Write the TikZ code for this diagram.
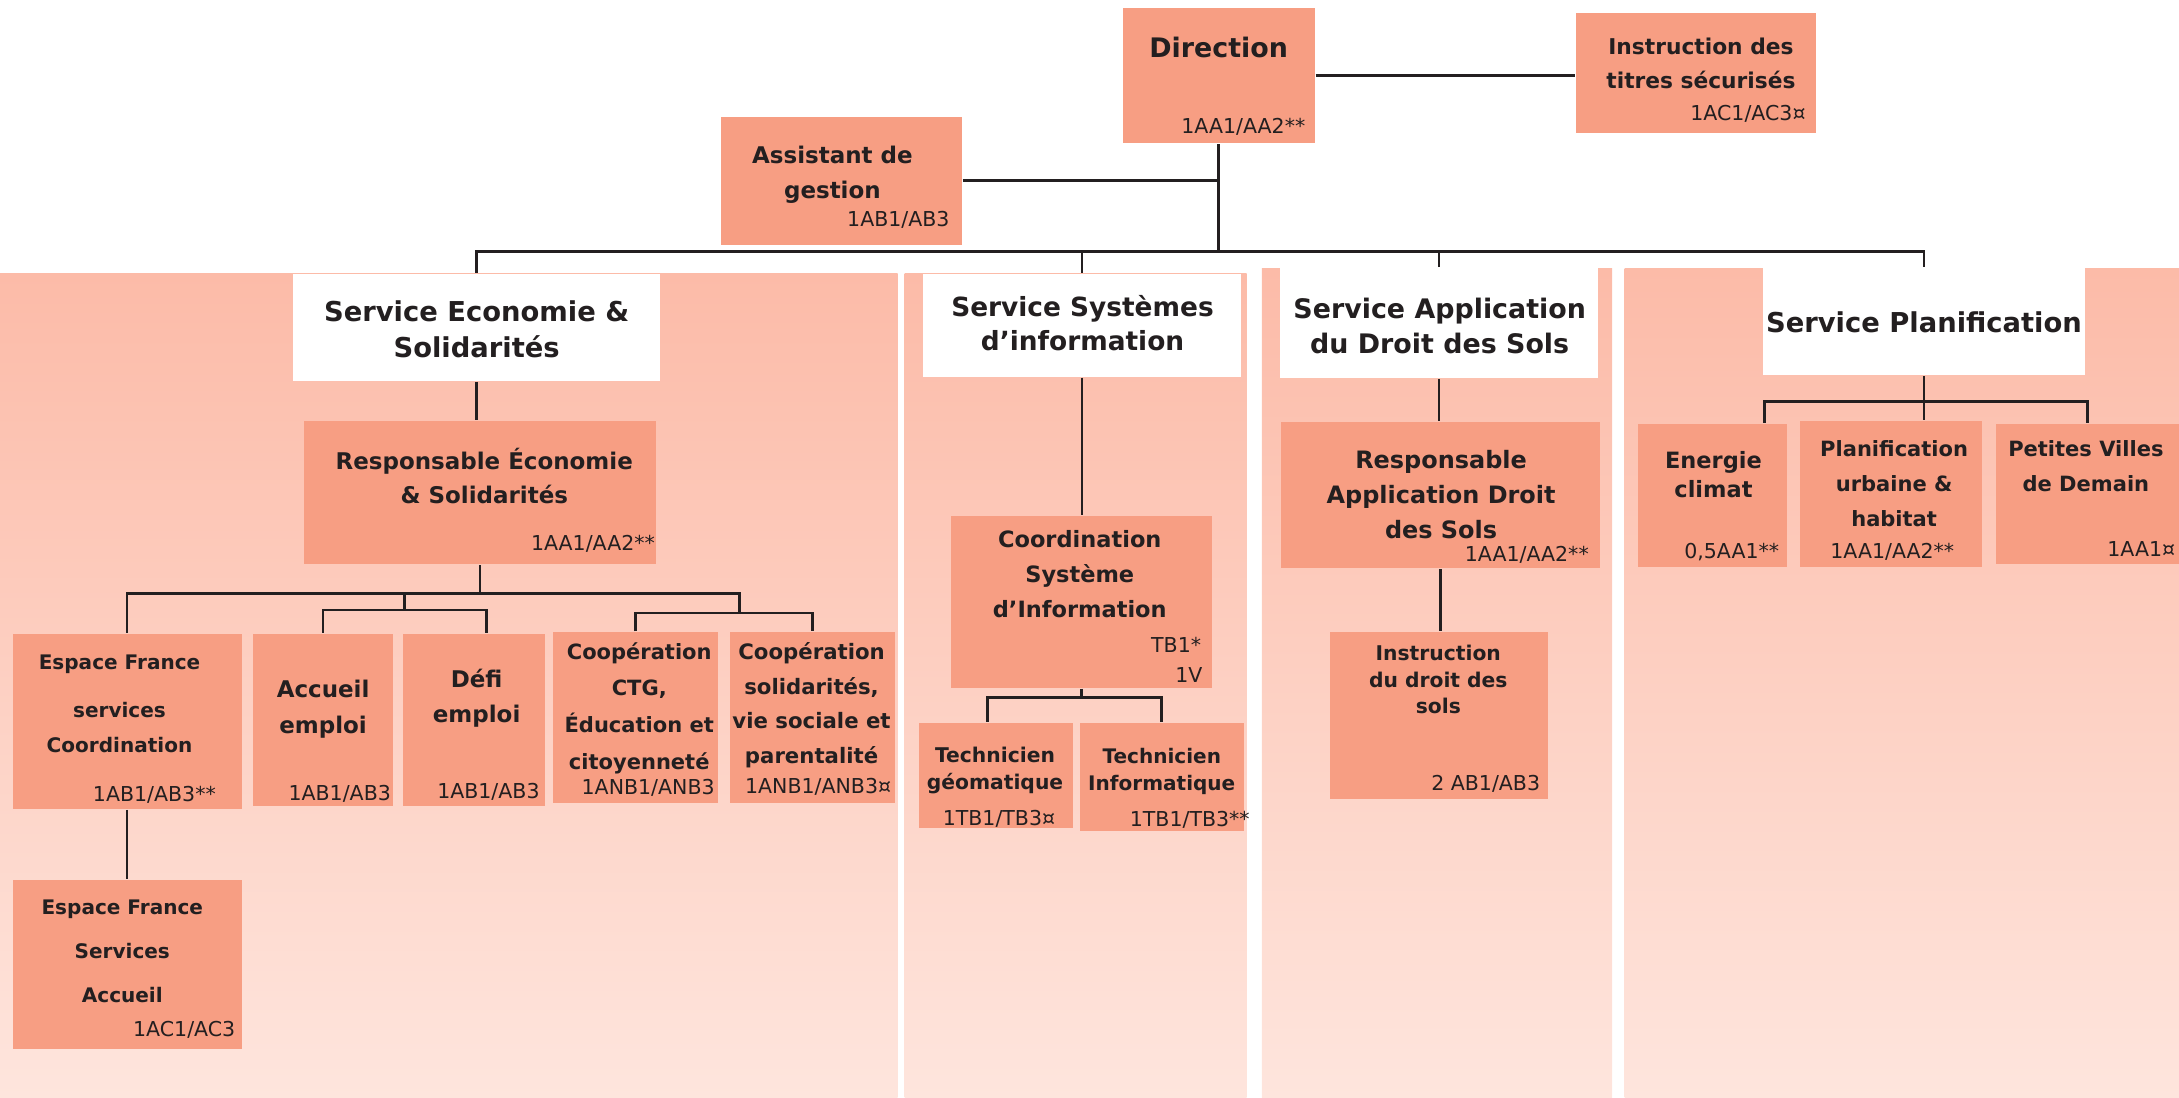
\documentclass[tikz,border=0pt]{standalone}
\usepackage{fontspec}
\setmainfont{DejaVu Sans}
\usetikzlibrary{fit,calc}

\definecolor{saumon}{RGB}{247,158,131}
\definecolor{fondHaut}{RGB}{252,187,168}
\definecolor{fondBas}{RGB}{254,229,221}
\definecolor{trait}{RGB}{35,31,32}
\definecolor{encre}{RGB}{35,31,32}

\newcommand{\fs}[2]{\fontsize{#1}{#2}\selectfont}

\tikzset{
  fond/.style={top color=fondHaut, bottom color=fondBas},
  poste/.style={fill=saumon, inner sep=0pt},
  service/.style={fill=white, inner sep=0pt},
  titre/.style={align=center, inner sep=0pt, text=encre},
  code/.style={anchor=east, inner sep=0pt, text=encre, font=\fs{4.2}{5}},
  lien/.style={draw=trait, line width=0.55pt},
}

\begin{document}
\begin{tikzpicture}[x=0.01cm, y=-0.01cm]

    % Cadre de la page
    \useasboundingbox (0,0) rectangle (1568,790);

    % Fonds des quatre services
    \shade[fond] (0,197) rectangle (646,790);
    \shade[fond] (651,197) rectangle (897,790);
    \shade[fond] (908,193) rectangle (1160,790);
    \shade[fond] (1169,193) rectangle (1568,790);

    % Direction et postes rattaches
    \node[poste, fit={(808,6) (946,103)}] (dir) {};
    \node[titre, font=\bfseries\fs{5.5}{7}] (dirT) at (877,34) {Direction};
    \node[code] (dirC) at (940,91) {1AA1/AA2**};

    \node[poste, fit={(1134,9) (1307,96)}] (titres) {};
    \node[titre, font=\bfseries\fs{4.45}{7.1}] (titresT) at (1224,45.5) {Instruction des\\titres sécurisés};
    \node[code] (titresC) at (1300,82) {1AC1/AC3¤};

    \node[poste, fit={(519,84) (692,176)}] (assist) {};
    \node[titre, font=\bfseries\fs{4.7}{7.1}] (assistT) at (599,125.5) {Assistant de\\gestion};
    \node[code] (assistC) at (684,158) {1AB1/AB3};

    % Les services
    \node[service, fit={(211,197) (475,274)}] (eco) {};
    \node[titre, font=\bfseries\fs{5.6}{7.3}] (ecoT) at (343,237) {Service Economie \&\\Solidarités};

    \node[service, fit={(664,197) (893,271)}] (sys) {};
    \node[titre, font=\bfseries\fs{5.4}{7.1}] (sysT) at (779,232.5) {Service Systèmes\\d’information};

    \node[service, fit={(921,193) (1150,272)}] (ads) {};
    \node[titre, font=\bfseries\fs{5.5}{7.1}] (adsT) at (1036,234.5) {Service Application\\du Droit des Sols};

    \node[service, fit={(1269,193) (1500,270)}] (plan) {};
    \node[titre, font=\bfseries\fs{5.6}{7.1}] (planT) at (1384.5,232) {Service Planification};

    % Service Economie & Solidarites
    \node[poste, fit={(219,303) (472,406)}] (respEco) {};
    \node[titre, font=\bfseries\fs{4.7}{7.1}] (respEcoT) at (348.5,342.5) {Responsable Économie\\\& Solidarités};
    \node[code] (respEcoC) at (472,391) {1AA1/AA2**};

    \node[poste, fit={(9,456) (174,582)}] (efsC) {};
    \node[titre, font=\bfseries\fs{4.1}{7.1}] (efsCT) at (86,506.5) {Espace France\\[2.6pt]services\\Coordination};
    \node[code] (efsCC) at (156,572) {1AB1/AB3**};

    \node[poste, fit={(182,456) (283,580)}] (accueil) {};
    \node[titre, font=\bfseries\fs{4.7}{7.4}] (accueilT) at (232.5,510) {Accueil\\emploi};
    \node[code] (accueilC) at (282,571) {1AB1/AB3};

    \node[poste, fit={(290,456) (392,580)}] (defi) {};
    \node[titre, font=\bfseries\fs{4.7}{7.1}] (defiT) at (343,502.5) {Défi\\emploi};
    \node[code] (defiC) at (389,570) {1AB1/AB3};

    \node[poste, fit={(398,455) (517,578)}] (coopCTG) {};
    \node[titre, font=\bfseries\fs{4.3}{7.5}] (coopCTGT) at (460,509.5) {Coopération\\CTG,\\Éducation et\\citoyenneté};
    \node[code] (coopCTGC) at (515,567) {1ANB1/ANB3};

    \node[poste, fit={(525,455) (644,578)}] (coopSol) {};
    \node[titre, font=\bfseries\fs{4.35}{7.1}] (coopSolT) at (584,507.5) {Coopération\\solidarités,\\vie sociale et\\parentalité};
    \node[code] (coopSolC) at (642,566) {1ANB1/ANB3¤};

    \node[poste, fit={(9,633) (174,755)}] (efsA) {};
    \node[titre, font=\bfseries\fs{4.1}{9}] (efsAT) at (88,684.5) {Espace France\\Services\\Accueil};
    \node[code] (efsAC) at (170,741) {1AC1/AC3};

    % Service Systemes d'information
    \node[poste, fit={(684,371) (872,495)}] (coord) {};
    \node[titre, font=\bfseries\fs{4.6}{7.1}] (coordT) at (777,413) {Coordination\\Système\\d’Information};
    \node[code] (coordC1) at (865,464) {TB1*};
    \node[code] (coordC2) at (866,486) {1V};

    \node[poste, fit={(661,520) (772,596)}] (techGeo) {};
    \node[titre, font=\bfseries\fs{4.15}{5.4}] (techGeoT) at (716,554.5) {Technicien\\géomatique};
    \node[code] (techGeoC) at (760,589) {1TB1/TB3¤};

    \node[poste, fit={(777,520) (895,598)}] (techInfo) {};
    \node[titre, font=\bfseries\fs{4.1}{5.4}] (techInfoT) at (836,555) {Technicien\\Informatique};
    \node[code] (techInfoC) at (900,590) {1TB1/TB3**};

    % Service Application du Droit des Sols
    \node[poste, fit={(922,304) (1151,409)}] (respADS) {};
    \node[titre, font=\bfseries\fs{4.9}{7.1}] (respADST) at (1037,356) {Responsable\\Application Droit\\des Sols};
    \node[code] (respADSC) at (1144,399) {1AA1/AA2**};

    \node[poste, fit={(957,455) (1114,575)}] (instr) {};
    \node[titre, font=\bfseries\fs{4.15}{5.4}] (instrT) at (1035,489) {Instruction\\du droit des\\sols};
    \node[code] (instrC) at (1109,564) {2 AB1/AB3};

    % Service Planification
    \node[poste, fit={(1179,305) (1286,408)}] (energie) {};
    \node[titre, font=\bfseries\fs{4.6}{6}] (energieT) at (1233,341.5) {Energie\\climat};
    \node[code] (energieC) at (1281,397) {0,5AA1**};

    \node[poste, fit={(1295,303) (1426,408)}] (planUrb) {};
    \node[titre, font=\bfseries\fs{4.3}{7.1}] (planUrbT) at (1363,348) {Planification\\urbaine \&\\habitat};
    \node[code] (planUrbC) at (1407,397) {1AA1/AA2**};

    \node[poste, fit={(1436,305) (1568,406)}] (petites) {};
    \node[titre, font=\bfseries\fs{4.3}{7.1}] (petitesT) at (1501,335.5) {Petites Villes\\de Demain};
    \node[code] (petitesC) at (1566,395) {1AA1¤};

    % Points de jonction des traits
    \coordinate (bus) at (0,181);
    \coordinate (j1) at (291,427);
    \coordinate (j2) at (532,427);
    \coordinate (s1) at (291,439);
    \coordinate (s2) at (532,441);
    \coordinate (s3) at (771,502);
    \coordinate (s4) at (1382,289);

    % Traits du haut
    \draw[lien] (dir.east) -- (dir.east -| titres.west);
    \draw[lien] (assist.east) -- (assist.east -| dir.south);
    \draw[lien] (dir.south) -- (dir.south |- bus);
    \draw[lien] (eco.north) -- (eco.north |- bus) -- (plan.north |- bus) -- (plan.north);
    \draw[lien] (sys.north) -- (sys.north |- bus);
    \draw[lien] (ads.north) -- (ads.north |- bus);

    % Traits du service Economie
    \draw[lien] (eco.south) -- (eco.south |- respEco.north);
    \draw[lien] (respEco.south) -- (respEco.south |- j1);
    \draw[lien] (efsC.north) |- (j2) -- (s2);
    \draw[lien] (j1) -- (s1);
    \draw[lien] (accueil.north) |- (s1) -| ($(defi.north)+(9,0)$);
    \draw[lien] (coopCTG.north) |- (s2) -| (coopSol.north);
    \draw[lien] (efsC.south) -- (efsA.north);

    % Traits du service Systemes
    \draw[lien] (sys.south) -- (sys.south |- coord.north);
    \draw[lien] (coord.south) -- (coord.south |- s3);
    \draw[lien] ($(techGeo.north)+(-6,0)$) |- (s3) -| (techInfo.north);

    % Traits du service ADS
    \draw[lien] (ads.south) -- (ads.south |- respADS.north);
    \draw[lien] (respADS.south) -- (respADS.south |- instr.north);

    % Traits du service Planification
    \draw[lien] (plan.south) -- (plan.south |- planUrb.north);
    \draw[lien] ($(energie.north east)+(-17,0)$) |- (s4) -| (petites.north);

\end{tikzpicture}
\end{document}
